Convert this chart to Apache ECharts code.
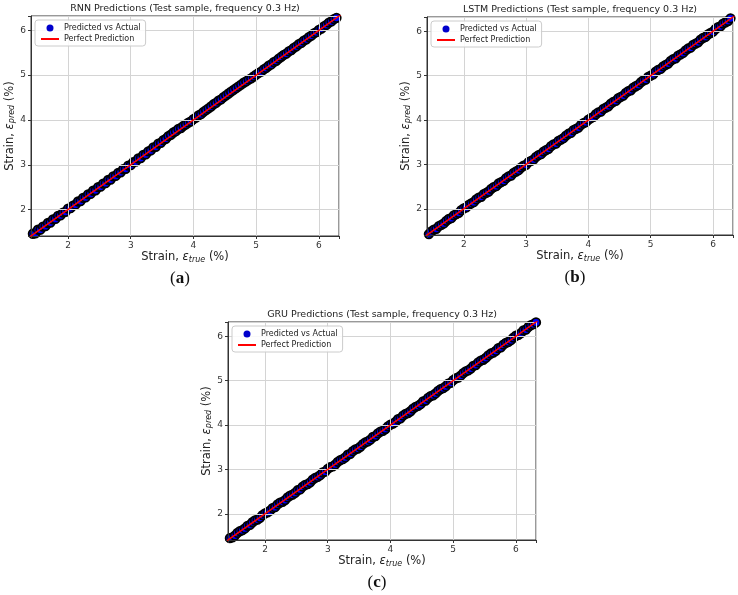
<!DOCTYPE html>
<html>
<head>
<meta charset="utf-8">
<script src="https://cdn.jsdelivr.net/npm/echarts@6/dist/echarts.min.js"></script>
<style>
  html, body { margin: 0; padding: 0; background: #fff; }
  #chart { width: 738px; height: 595px; }
</style>
</head>
<body>
<div id="chart"></div>
<script>
// true strain values (%) along the test sample
const trueStrain = [
  1.36, 1.40, 1.44, 1.48, 1.52, 1.56, 1.60, 1.64, 1.68, 1.72,
  1.76, 1.80, 1.84, 1.88, 1.92, 1.96, 2.00, 2.04, 2.08, 2.12,
  2.16, 2.20, 2.24, 2.28, 2.32, 2.36, 2.40, 2.44, 2.48, 2.52,
  2.56, 2.60, 2.64, 2.68, 2.72, 2.76, 2.80, 2.84, 2.88, 2.92,
  2.96, 3.00, 3.04, 3.08, 3.12, 3.16, 3.20, 3.24, 3.28, 3.32,
  3.36, 3.40, 3.44, 3.48, 3.52, 3.56, 3.60, 3.64, 3.68, 3.72,
  3.76, 3.80, 3.84, 3.88, 3.92, 3.96, 4.00, 4.04, 4.08, 4.12,
  4.16, 4.20, 4.24, 4.28, 4.32, 4.36, 4.40, 4.44, 4.48, 4.52,
  4.56, 4.60, 4.64, 4.68, 4.72, 4.76, 4.80, 4.84, 4.88, 4.92,
  4.96, 5.00, 5.04, 5.08, 5.12, 5.16, 5.20, 5.24, 5.28, 5.32,
  5.36, 5.40, 5.44, 5.48, 5.52, 5.56, 5.60, 5.64, 5.68, 5.72,
  5.76, 5.80, 5.84, 5.88, 5.92, 5.96, 6.00, 6.04, 6.08, 6.12,
  6.16, 6.20, 6.24, 6.28, 6.32, 6.36
];
const rnnPred = [
  1.38, 1.39, 1.46, 1.47, 1.55, 1.55, 1.62, 1.63, 1.70, 1.71,
  1.78, 1.79, 1.86, 1.87, 1.93, 1.95, 2.02, 2.03, 2.09, 2.11,
  2.18, 2.19, 2.26, 2.27, 2.34, 2.35, 2.42, 2.43, 2.50, 2.51,
  2.58, 2.59, 2.66, 2.67, 2.74, 2.75, 2.82, 2.83, 2.90, 2.91,
  2.98, 2.99, 3.06, 3.07, 3.14, 3.15, 3.22, 3.23, 3.30, 3.32,
  3.39, 3.40, 3.47, 3.49, 3.55, 3.58, 3.64, 3.67, 3.72, 3.75,
  3.80, 3.82, 3.87, 3.90, 3.94, 3.97, 4.02, 4.05, 4.10, 4.13,
  4.18, 4.22, 4.26, 4.30, 4.35, 4.38, 4.43, 4.46, 4.51, 4.55,
  4.59, 4.63, 4.67, 4.71, 4.75, 4.79, 4.83, 4.86, 4.90, 4.93,
  4.97, 5.01, 5.05, 5.08, 5.13, 5.16, 5.21, 5.24, 5.29, 5.32,
  5.37, 5.41, 5.45, 5.48, 5.53, 5.56, 5.61, 5.64, 5.69, 5.72,
  5.77, 5.80, 5.85, 5.88, 5.93, 5.96, 6.01, 6.04, 6.09, 6.12,
  6.17, 6.20, 6.25, 6.28, 6.33, 6.36
];
const lstmPred = [
  1.37, 1.40, 1.43, 1.49, 1.53, 1.55, 1.61, 1.64, 1.67, 1.73,
  1.77, 1.79, 1.85, 1.88, 1.91, 1.97, 2.01, 2.03, 2.09, 2.12,
  2.15, 2.21, 2.25, 2.27, 2.33, 2.36, 2.39, 2.45, 2.49, 2.51,
  2.57, 2.60, 2.63, 2.69, 2.73, 2.75, 2.81, 2.84, 2.87, 2.93,
  2.97, 2.99, 3.05, 3.08, 3.11, 3.17, 3.21, 3.23, 3.29, 3.32,
  3.35, 3.41, 3.45, 3.47, 3.53, 3.56, 3.59, 3.65, 3.69, 3.71,
  3.77, 3.80, 3.83, 3.89, 3.93, 3.95, 4.01, 4.04, 4.07, 4.13,
  4.17, 4.19, 4.25, 4.28, 4.31, 4.37, 4.41, 4.43, 4.49, 4.52,
  4.55, 4.61, 4.65, 4.67, 4.73, 4.76, 4.79, 4.85, 4.89, 4.91,
  4.97, 5.00, 5.03, 5.09, 5.13, 5.15, 5.21, 5.24, 5.27, 5.33,
  5.37, 5.39, 5.45, 5.48, 5.51, 5.57, 5.61, 5.63, 5.69, 5.72,
  5.75, 5.81, 5.85, 5.87, 5.93, 5.96, 5.99, 6.05, 6.09, 6.11,
  6.17, 6.20, 6.23, 6.29, 6.33, 6.35
];
const gruPred = [
  1.35, 1.41, 1.45, 1.47, 1.51, 1.57, 1.61, 1.63, 1.67, 1.73,
  1.75, 1.81, 1.85, 1.87, 1.91, 1.97, 2.01, 2.03, 2.07, 2.13,
  2.15, 2.21, 2.25, 2.27, 2.31, 2.37, 2.41, 2.43, 2.47, 2.53,
  2.55, 2.61, 2.65, 2.67, 2.71, 2.77, 2.81, 2.83, 2.87, 2.93,
  2.95, 3.01, 3.05, 3.07, 3.11, 3.17, 3.21, 3.23, 3.27, 3.33,
  3.35, 3.41, 3.45, 3.47, 3.51, 3.57, 3.61, 3.63, 3.67, 3.73,
  3.75, 3.81, 3.85, 3.87, 3.91, 3.97, 4.01, 4.03, 4.07, 4.13,
  4.15, 4.21, 4.25, 4.27, 4.31, 4.37, 4.41, 4.43, 4.47, 4.53,
  4.55, 4.61, 4.65, 4.67, 4.71, 4.77, 4.81, 4.83, 4.87, 4.93,
  4.95, 5.01, 5.05, 5.07, 5.11, 5.17, 5.21, 5.23, 5.27, 5.33,
  5.35, 5.41, 5.45, 5.47, 5.51, 5.57, 5.61, 5.63, 5.67, 5.73,
  5.75, 5.81, 5.85, 5.87, 5.91, 5.97, 6.01, 6.03, 6.07, 6.13,
  6.15, 6.21, 6.25, 6.27, 6.31, 6.37
];
// ends of the y = x reference line
const idealEnds = [1.3, 6.45];
const axisMin = 1.41;
const axisMax = 6.32;

const titles = [
  'RNN Predictions (Test sample, frequency 0.3 Hz)',
  'LSTM Predictions (Test sample, frequency 0.3 Hz)',
  'GRU Predictions (Test sample, frequency 0.3 Hz)'
];
const tags = ['a', 'b', 'c'];
const preds = [rnnPred, lstmPred, gruPred];

const FONT = 'DejaVu Sans';
const panels = [
  { left: 31, top: 16, width: 308, height: 220 },
  { left: 427, top: 17, width: 306, height: 218 },
  { left: 228, top: 322, width: 308, height: 218 }
];

const chart = echarts.init(document.getElementById('chart'), null, { renderer: 'canvas' });

const grids = [], xAxes = [], yAxes = [], series = [], legends = [], graphics = [];

function axisCommon(sub) {
  return {
    type: 'value',
    min: axisMin,
    max: axisMax,
    z: 3,
    name: 'Strain, {e|ε}{s|' + sub + '} (%)',
    nameLocation: 'middle',
    nameTextStyle: {
      fontFamily: FONT, fontSize: 11.5, color: '#222',
      rich: {
        e: { fontFamily: FONT, fontSize: 11.5, fontStyle: 'italic', color: '#222' },
        s: { fontFamily: FONT, fontSize: 8, fontStyle: 'italic', color: '#222', padding: [5, 0, 0, 0] }
      }
    },
    axisLine: { show: true, onZero: false, lineStyle: { color: '#333', width: 1 } },
    axisTick: { show: true, length: 3, lineStyle: { color: '#333' } },
    axisLabel: {
      fontFamily: FONT, fontSize: 9, color: '#333', margin: 5,
      formatter: v => Number.isInteger(v) ? String(v) : ''
    },
    splitLine: { show: true, lineStyle: { color: '#d4d4d4', width: 1 } }
  };
}

panels.forEach((p, i) => {
  grids.push({ left: p.left, top: p.top, width: p.width, height: p.height,
    show: true, borderColor: '#333', borderWidth: 1, backgroundColor: '#fff' });

  xAxes.push(Object.assign(axisCommon('true'), { gridIndex: i, nameGap: 15 }));
  yAxes.push(Object.assign(axisCommon('pred'), { gridIndex: i, nameGap: 14, nameRotate: 90 }));

  series.push({
    name: 'Predicted vs Actual',
    type: 'scatter',
    xAxisIndex: i, yAxisIndex: i,
    symbolSize: 8.5,
    itemStyle: { color: '#0000ff', borderColor: '#000', borderWidth: 1.8, opacity: 1 },
    data: trueStrain.map((t, k) => [t, preds[i][k]]),
    z: 2
  });
  series.push({
    name: 'Perfect Prediction',
    type: 'line',
    xAxisIndex: i, yAxisIndex: i,
    symbol: 'none',
    lineStyle: { color: '#ff0000', width: 1.5 },
    itemStyle: { color: '#ff0000' },
    data: idealEnds.map(v => [v, v]),
    z: 4
  });

  legends.push({
    left: p.left + 4, top: p.top + 4,
    orient: 'vertical',
    itemGap: 3, itemWidth: 18, itemHeight: 7,
    padding: [4, 5, 3, 5],
    backgroundColor: 'rgba(255,255,255,0.85)',
    borderColor: '#cccccc', borderWidth: 1, borderRadius: 3,
    textStyle: { fontFamily: FONT, fontSize: 8, color: '#222' },
    data: [
      { name: 'Predicted vs Actual', icon: 'circle', itemStyle: { color: '#0000cc', borderWidth: 0 } },
      { name: 'Perfect Prediction', itemStyle: { opacity: 0 } }
    ],
    selectedMode: false,
    z: 10
  });

  graphics.push({
    type: 'text',
    x: p.left + p.width / 2, y: p.top - 7,
    style: { text: titles[i], font: '9.5px "' + FONT + '"', fill: '#222',
      align: 'center', verticalAlign: 'middle' }
  });
  graphics.push({
    type: 'text',
    x: p.left + p.width / 2 - 5, y: p.top + p.height + 43,
    style: {
      text: '({b|' + tags[i] + '})',
      font: '17px "Liberation Serif"', fill: '#111',
      align: 'center', verticalAlign: 'middle',
      rich: { b: { font: 'bold 17px "Liberation Serif"', fill: '#111' } }
    }
  });
});

chart.setOption({
  animation: false,
  backgroundColor: '#fff',
  grid: grids,
  xAxis: xAxes,
  yAxis: yAxes,
  legend: legends,
  series: series,
  graphic: graphics
});
</script>
</body>
</html>
